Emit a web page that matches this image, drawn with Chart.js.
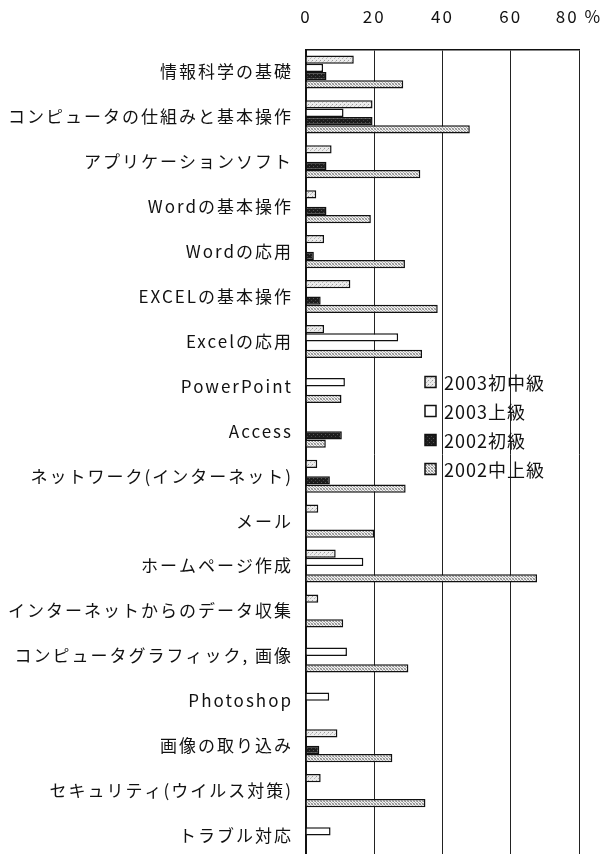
<!DOCTYPE html>
<html>
<head>
<meta charset="utf-8">
<script src="https://cdn.jsdelivr.net/npm/chart.js@4/dist/chart.umd.min.js"></script>
<style>
html,body{margin:0;padding:0;background:#fff;overflow:hidden;}
canvas{display:block;}
</style>
</head>
<body>
<canvas id="c" width="607" height="858"></canvas>
<script>
// ---- data ----
const categories = [
  "情報科学の基礎",
  "コンピュータの仕組みと基本操作",
  "アプリケーションソフト",
  "Wordの基本操作",
  "Wordの応用",
  "EXCELの基本操作",
  "Excelの応用",
  "PowerPoint",
  "Access",
  "ネットワーク(インターネット)",
  "メール",
  "ホームページ作成",
  "インターネットからのデータ収集",
  "コンピュータグラフィック, 画像",
  "Photoshop",
  "画像の取り込み",
  "セキュリティ(ウイルス対策)",
  "トラブル対応"
];
const seriesNames = ["2003初中級", "2003上級", "2002初級", "2002中上級"];
const s2003basic = [14, 19.5, 7.5, 3, 5.3, 13, 5.3, null, null, 3.3, 3.6, 8.7, 3.6, null, null, 9.2, 4.3, null];
const s2003adv   = [5, 11, null, null, null, null, 27, 11.4, null, null, null, 16.8, null, 12, 6.8, null, null, 7.2];
const s2002basic = [6, 19.5, 6, 6, 2.3, 4.3, null, null, 10.5, 7, null, null, null, null, null, 3.9, null, null];
const s2002adv   = [28.5, 48, 33.5, 19, 29, 38.6, 34, 10.4, 5.8, 29.2, 20, 67.7, 10.9, 30, null, 25.3, 35, null];
const xTicks = [0, 20, 40, 60, 80];

// ---- patterns ----
function makePattern(size, bg, dots) {
  const c = document.createElement('canvas');
  c.width = size; c.height = size;
  const g = c.getContext('2d');
  g.fillStyle = bg; g.fillRect(0, 0, size, size);
  dots.forEach(d => { g.fillStyle = d[2]; g.fillRect(d[0], d[1], 1, 1); });
  return g.createPattern(c, 'repeat');
}
const ctx = document.getElementById('c').getContext('2d');
const patA = makePattern(4, '#ececec', [[0,0,'#9a9a9a'],[2,2,'#b5b5b5'],[3,1,'#c8c8c8']]);
const patB = '#ffffff';
const patC = makePattern(4, '#1c1c1c', [[1,2,'#555'],[3,0,'#444']]);
const patD = makePattern(3, '#f0f0f0', [[0,0,'#8c8c8c'],[1,1,'#a8a8a8'],[2,2,'#8c8c8c'],[2,0,'#b8b8b8'],[0,2,'#b8b8b8']]);
const fills = [patA, patB, patC, patD];

const FONT = '"Noto Sans CJK JP", "Noto Sans", sans-serif';

const legendPlugin = {
  id: 'inlineLegend',
  afterDraw(chart) {
    const c = chart.ctx;
    c.save();
    c.letterSpacing = '1px';
    const x0 = 425, ys = [382, 411, 440, 469];
    chart.data.datasets.forEach((ds, i) => {
      const y = ys[i];
      c.fillStyle = ds.backgroundColor;
      c.fillRect(x0, y - 5.5, 11, 11);
      c.strokeStyle = '#111';
      c.lineWidth = 1.5;
      c.strokeRect(x0, y - 5.5, 11, 11);
      c.fillStyle = '#111';
      c.font = '18px ' + FONT;
      c.textBaseline = 'middle';
      c.textAlign = 'left';
      c.fillText(ds.label, x0 + 19, y + 1);
    });
    c.restore();
  }
};

const spacingPlugin = {
  id: 'spacing',
  beforeDraw(chart) { chart.ctx.letterSpacing = '2px'; }
};

new Chart(ctx, {
  type: 'bar',
  data: {
    labels: categories,
    datasets: seriesNames.map((n, i) => ({
      label: n,
      data: [s2003basic, s2003adv, s2002basic, s2002adv][i],
      backgroundColor: fills[i],
      borderColor: '#111',
      borderWidth: 1.5,
      categoryPercentage: 0.735,
      barPercentage: 1.0
    }))
  },
  options: {
    indexAxis: 'y',
    responsive: false,
    animation: false,
    devicePixelRatio: 1,
    layout: { padding: { left: 0, right: 28, top: 0, bottom: 0 } },
    plugins: { legend: { display: false }, tooltip: { enabled: false } },
    scales: {
      x: {
        position: 'top',
        min: 0, max: 80,
        afterBuildTicks(scale) { scale.ticks = xTicks.map(v => ({ value: v })); },
        afterFit(scale) { scale.height = 49.5; scale.paddingRight = 0; scale.paddingLeft = 0; },
        ticks: {
          padding: 23,
          color: '#111',
          font: { size: 17, family: FONT },
          callback: v => (v === 80 ? '80 %' : String(v))
        },
        grid: { color: '#222', lineWidth: 1, drawTicks: false },
        border: { display: true, color: '#111', width: 1.5 }
      },
      y: {
        afterFit(scale) { scale.width = 306; scale.paddingTop = 0; scale.paddingBottom = 0; },
        ticks: {
          padding: 5,
          color: '#111',
          font: { size: 17, family: FONT }
        },
        grid: { display: false },
        border: { display: true, color: '#111', width: 2 }
      }
    }
  },
  plugins: [spacingPlugin, legendPlugin]
});
</script>
</body>
</html>
